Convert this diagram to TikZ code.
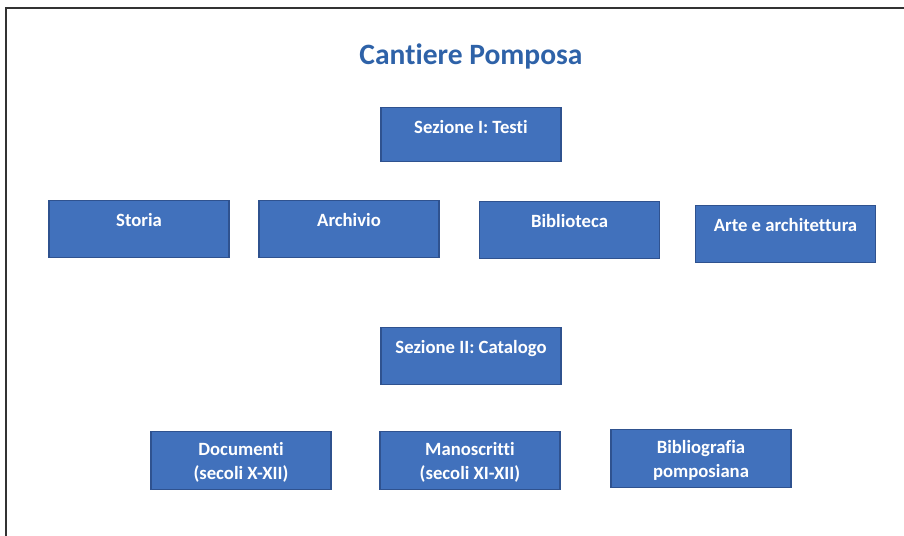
\documentclass[tikz,border=0pt]{standalone}
\usepackage{fontspec}
\setmainfont{Carlito}[Ligatures=NoCommon]
\definecolor{boxblue}{RGB}{65,113,188}
\definecolor{boxedge}{RGB}{47,82,143}
\definecolor{titleblue}{RGB}{46,98,168}
\definecolor{framegray}{RGB}{50,50,50}

\begin{document}
\begin{tikzpicture}[x=0.025cm,y=-0.025cm,
    box/.style={draw=boxedge,fill=boxblue,line width=0.8pt,text=white,
      font=\fontsize{13.3}{17}\selectfont\bfseries,align=center,
      anchor=north,inner sep=0pt,minimum width=4.5cm,
      text height=0.65cm,text depth=0.775cm},
    twoline/.style={text height=1.2cm,text depth=0.25cm}]
    \useasboundingbox (0,0) rectangle (904,536);
    \draw[framegray,line width=0.8pt] (6,536) -- (6,8) -- (904,8);
    \node[anchor=base,text=titleblue,font=\fontsize{21}{25}\selectfont\bfseries] (title) at (471,65) {Cantiere Pomposa};
    \node[box,text depth=0.7cm] (testi) at (471,107) {Sezione I: Testi};
    \node[box] (storia) at (139,200) {Storia};
    \node[box] (archivio) at (349,200) {Archivio};
    \node[box] (biblioteca) at (569.5,201) {Biblioteca};
    \node[box] (arte) at (785.5,205) {Arte e architettura};
    \node[box] (catalogo) at (471,327) {Sezione II: Catalogo};
    \node[box,twoline] (documenti) at (241,431) {Documenti\\(secoli X-XII)};
    \node[box,twoline] (manoscritti) at (470,431) {Manoscritti\\(secoli XI-XII)};
    \node[box,twoline] (bibliografia) at (701,429) {Bibliografia\\pomposiana};
  \end{tikzpicture}
\end{document}
